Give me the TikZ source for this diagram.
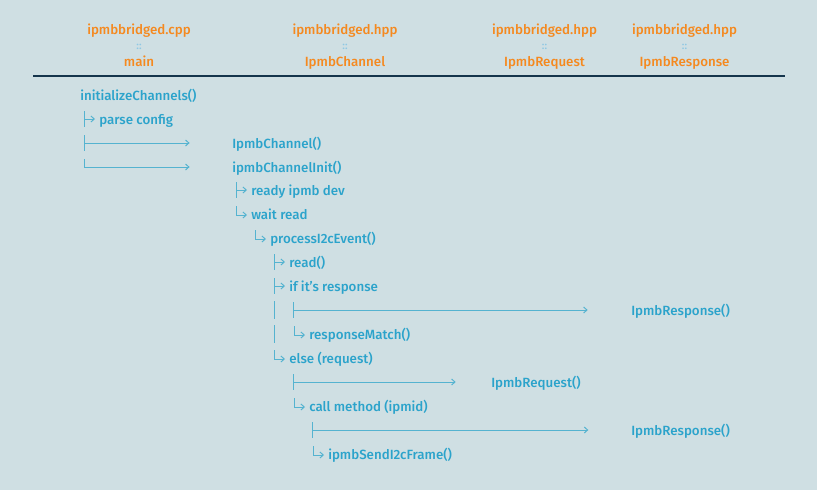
\documentclass[tikz,border=0pt]{standalone}
\usepackage{fontspec}
\setmainfont{Fira Sans}[UprightFont={* Medium}]
\usetikzlibrary{arrows.meta}
\definecolor{bgpale}{HTML}{CFDFE3}
\definecolor{hdrorange}{HTML}{F5891F}
\definecolor{callblue}{HTML}{2BA3CB}
\definecolor{treeblue}{HTML}{55B3D0}
\definecolor{rulenavy}{HTML}{15354C}
\definecolor{sepblue}{HTML}{8EC8E4}
\tikzset{
  tree/.style={draw=treeblue,line width=0.75pt},
  calltip/.style={-{Straight Barb[length=2.5pt,width=4.5pt]}},
  hdrfile/.style={text=hdrorange,inner sep=0pt,text height=7pt,text depth=1pt,
    font=\fontsize{10}{12}\selectfont},
  hdrcls/.style={hdrfile},
  hdrsep/.style={text=sepblue,inner sep=0pt,font=\fontsize{8}{9}\selectfont},
  callnode/.style={anchor=west,inner sep=0pt,text=callblue,text height=9pt,text depth=1pt,
    font=\fontsize{10}{12}\selectfont},
  tee/.pic={\draw[tree] (0,-8) -- (0,8); \draw[tree,calltip] (0,0) -- (11,0);},
  ell/.pic={\draw[tree,calltip] (0,-8) -- (0,1) -- (11,1);},
  vbar/.pic={\draw[tree] (0,-9) -- (0,9);}
}
\begin{document}
\begin{tikzpicture}[x=0.75pt,y=-0.75pt]
\fill[bgpale] (0,0) rectangle (817,490);
\useasboundingbox (0,0) rectangle (817,490);
% header
\node[hdrfile] (fmain) at (139,30) {ipmbbridged.cpp};
\node[hdrsep] (smain) at (139,46.5) {::};
\node[hdrcls] (cmain) at (139,62) {main};
\node[hdrfile] (fchan) at (345,30) {ipmbbridged.hpp};
\node[hdrsep] (schan) at (345,46.5) {::};
\node[hdrcls] (cchan) at (345,62) {IpmbChannel};
\node[hdrfile] (freq) at (544.5,30) {ipmbbridged.hpp};
\node[hdrsep] (sreq) at (544.5,46.5) {::};
\node[hdrcls] (creq) at (544.5,62) {IpmbRequest};
\node[hdrfile] (fresp) at (684.5,30) {ipmbbridged.hpp};
\node[hdrsep] (sresp) at (684.5,46.5) {::};
\node[hdrcls] (cresp) at (684.5,62) {IpmbResponse};
\draw[rulenavy,line width=1.2pt] (33,76) -- (785,76);
% calls
\node[callnode] (initch) at (80,95) {initializeChannels()};
\node[callnode] (parse) at (99,119) {parse config};
\node[callnode] (chctor) at (232,143) {IpmbChannel()};
\node[callnode] (chinit) at (232,167) {ipmbChannelInit()};
\node[callnode] (ready) at (251,190) {ready ipmb dev};
\node[callnode] (waitrd) at (251,214) {wait read};
\node[callnode] (procev) at (270,238) {processI2cEvent()};
\node[callnode] (rd) at (289,262) {read()};
\node[callnode] (ifresp) at (289,286) {if it's response};
\node[callnode] (respa) at (631,310) {IpmbResponse()};
\node[callnode] (match) at (309,334) {responseMatch()};
\node[callnode] (elsereq) at (289,358) {else (request)};
\node[callnode] (req) at (491,382) {IpmbRequest()};
\node[callnode] (callm) at (309,406) {call method (ipmid)};
\node[callnode] (respb) at (631,430) {IpmbResponse()};
\node[callnode] (sendfr) at (328,454) {ipmbSendI2cFrame()};
% short branches
\pic at ([xshift=-11.25pt]parse.west) {tee};
\pic at ([xshift=-11.25pt]ready.west) {tee};
\pic at ([xshift=-11.25pt]waitrd.west) {ell};
\pic at ([xshift=-11.25pt]procev.west) {ell};
\pic at ([xshift=-11.25pt]rd.west) {tee};
\pic at ([xshift=-11.25pt]ifresp.west) {tee};
\pic at ([xshift=-11.25pt]match.west) {ell};
\pic at ([xshift=-11.25pt]elsereq.west) {ell};
\pic at ([xshift=-11.25pt]callm.west) {ell};
\pic at ([xshift=-11.25pt]sendfr.west) {ell};
\pic at (274,310) {vbar};
\pic at (274,334) {vbar};
% long branches
\coordinate (sctor) at (84.3,143);
\coordinate (sresa) at (293.3,310);
\coordinate (sreq) at (293.3,382);
\coordinate (sresb) at (312.7,430);
\draw[tree] (sctor) +(0,-8) -- +(0,8);
\draw[tree,calltip] (sctor) -- ([xshift=-31.8pt]chctor.west);
\draw[tree,calltip] (84.3,159) |- ([xshift=-31.8pt]chinit.west);
\draw[tree] (sresa) +(0,-8) -- +(0,8);
\draw[tree,calltip] (sresa) -- ([xshift=-32.5pt]respa.west);
\draw[tree] (sreq) +(0,-8) -- +(0,8);
\draw[tree,calltip] (sreq) -- ([xshift=-26.5pt]req.west);
\draw[tree] (sresb) +(0,-8) -- +(0,8);
\draw[tree,calltip] (sresb) -- ([xshift=-32pt]respb.west);
\end{tikzpicture}
\end{document}
